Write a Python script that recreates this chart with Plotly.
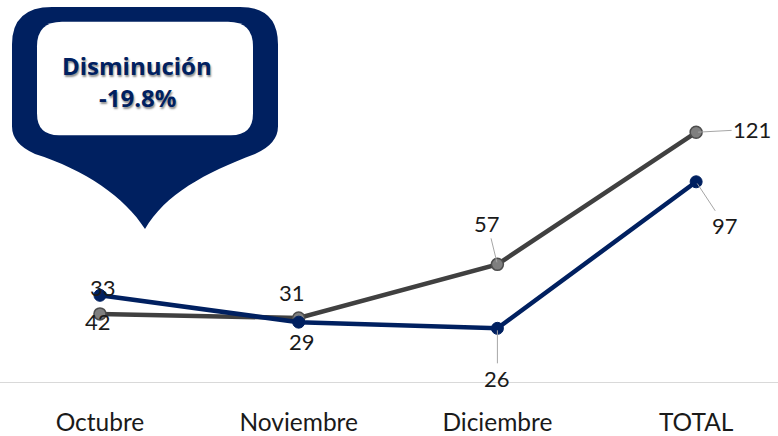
import plotly.graph_objects as go

# ---------------- data ----------------
categories = ["Octubre", "Noviembre", "Diciembre", "TOTAL"]
gray_values = [33, 31, 57, 121]
navy_values = [42, 29, 26, 97]
gray_labels = ["42", "31", "57", "121"]
navy_labels = ["33", "29", "26", "97"]
callout_title = "Disminución"
callout_value = "-19.8%"

# ---------------- style ----------------
W, H = 778, 436
M_L, M_R, M_T, M_B = 0, 0, 0, 49
PW, PH = W - M_L - M_R, H - M_T - M_B
NAVY = "#002060"
GRAY_LINE = "#404040"
GRAY_MARK = "#7f7f7f"
LEADER = "#a6a6a6"
TXT = "#1a1a1a"
FONT = "Lato"

fig = go.Figure()
fig.add_trace(go.Scatter(
    x=categories, y=gray_values, mode="lines+markers",
    line=dict(color=GRAY_LINE, width=4.5),
    marker=dict(size=12, color=GRAY_MARK, line=dict(color="#4d4d4d", width=1.5)),
    hoverinfo="skip"))
fig.add_trace(go.Scatter(
    x=categories, y=navy_values, mode="lines+markers",
    line=dict(color=NAVY, width=4.5),
    marker=dict(size=12, color=NAVY, line=dict(color=NAVY, width=1)),
    hoverinfo="skip"))

# label placement (style): (dx, dy) shift for plain labels, or (ax, ay) for leader labels
gray_place = [("shift", -2, -8), ("shift", -7, 26), ("arrow", -10, -41), ("arrow", 56, -3)]
navy_place = [("shift", 3, 8), ("shift", 3, -19), ("arrow", 0, 50), ("arrow", 29, 44)]

annotations = []
for values, labels, places in ((gray_values, gray_labels, gray_place),
                               (navy_values, navy_labels, navy_place)):
    for cat, v, lab, pl in zip(categories, values, labels, places):
        kind, a, b = pl
        base = dict(x=cat, y=v, xref="x", yref="y", text=lab,
                    font=dict(family=FONT, size=22, color=TXT))
        if kind == "shift":
            base.update(showarrow=False, xshift=a, yshift=b)
        else:
            base.update(showarrow=True, ax=a, ay=b, arrowhead=0, arrowwidth=1,
                        arrowcolor=LEADER, standoff=2, startstandoff=0)
        annotations.append(base)


def P(x, y):
    return f"{(x - M_L) / PW:.5f},{(M_T + PH - y) / PH:.5f}"


outer = ("M " + P(52, 7) + " L " + P(240, 7) + " Q " + P(278, 7) + " " + P(278, 45) +
         " L " + P(278, 128) + " Q " + P(278, 146) + " " + P(255, 156) +
         " C " + P(205, 175) + " " + P(165, 197) + " " + P(145, 232) +
         " C " + P(125, 200) + " " + P(85, 172) + " " + P(35, 156) +
         " Q " + P(12, 146) + " " + P(12, 128) +
         " L " + P(12, 45) + " Q " + P(12, 7) + " " + P(52, 7) + " Z")
inner = ("M " + P(62, 22) + " L " + P(228, 22) + " Q " + P(253, 22) + " " + P(253, 47) +
         " L " + P(253, 115) + " Q " + P(253, 137) + " " + P(231, 137) +
         " L " + P(59, 137) + " Q " + P(37, 137) + " " + P(37, 115) +
         " L " + P(37, 47) + " Q " + P(37, 22) + " " + P(62, 22) + " Z")

shapes = [
    dict(type="path", xref="paper", yref="paper", path=outer,
         fillcolor=NAVY, line=dict(width=0), layer="above"),
    dict(type="path", xref="paper", yref="paper", path=inner,
         fillcolor="white", line=dict(width=0), layer="above"),
]

for txt, yc in ((callout_title, 66), (callout_value, 99)):
    annotations.append(dict(
        x=(137 - M_L) / PW, y=(M_T + PH - yc) / PH, xref="paper", yref="paper",
        text=f"<b>{txt}</b>", showarrow=False, xanchor="center", yanchor="middle",
        font=dict(family="Open Sans", size=24, color=NAVY,
                  shadow="1px 2px 2px rgba(0,0,0,0.45)")))

y_top = 121 * PH / (PH - 134)  # value at top of plot so 0 sits on the axis line

fig.update_layout(
    width=W, height=H,
    margin=dict(l=M_L, r=M_R, t=M_T, b=M_B, pad=0),
    paper_bgcolor="white", plot_bgcolor="white",
    showlegend=False,
    shapes=shapes,
    annotations=annotations,
    xaxis=dict(type="category", range=[-0.503, 3.412], showline=True,
               linecolor="#d9d9d9", linewidth=1, showgrid=False, zeroline=False,
               ticks="outside", ticklen=19, tickcolor="rgba(0,0,0,0)",
               tickfont=dict(family=FONT, size=24.5, color=TXT), fixedrange=True),
    yaxis=dict(range=[0, y_top], showticklabels=False, showgrid=False,
               zeroline=False, showline=False, fixedrange=True),
)

fig.write_html("out.html", config={"displayModeBar": False},
               post_script="document.body.style.margin='0';document.body.style.overflow='hidden';")
